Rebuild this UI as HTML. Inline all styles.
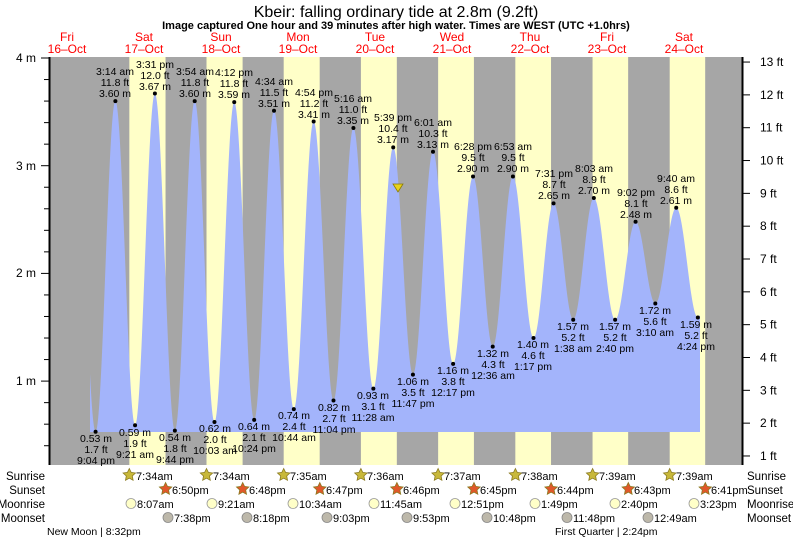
<!DOCTYPE html>
<html><head><meta charset="utf-8"><style>
html,body{margin:0;padding:0;background:#fff;}
svg{display:block;font-family:"Liberation Sans",sans-serif;}
.l{font-size:10.5px;fill:#000;text-anchor:middle;}
</style></head><body>
<svg id="s" width="793" height="539" viewBox="0 0 793 539" xmlns="http://www.w3.org/2000/svg">
<rect x="0" y="0" width="793" height="539" fill="#fff"/>
<g id="bands"></g>
<path id="tide" fill="#a3b4fb" d=""/>
<g id="ticks" stroke="#000" stroke-width="1"></g>
<line x1="49.5" y1="57" x2="49.5" y2="465" stroke="#000" stroke-width="2"/>
<line x1="742.5" y1="57" x2="742.5" y2="465" stroke="#000" stroke-width="2"/>
<text x="396" y="17" font-size="16" text-anchor="middle">Kbeir: falling  ordinary tide at 2.8m (9.2ft)</text>
<text x="396" y="29" font-size="11" font-weight="bold" text-anchor="middle">Image captured One hour and 39 minutes after high water. Times are WEST (UTC +1.0hrs)</text>
<g font-size="12" fill="#f00" text-anchor="middle">
<text x="67" y="41">Fri</text><text x="67" y="53">16–Oct</text>
<text x="144" y="41">Sat</text><text x="144" y="53">17–Oct</text>
<text x="221" y="41">Sun</text><text x="221" y="53">18–Oct</text>
<text x="298" y="41">Mon</text><text x="298" y="53">19–Oct</text>
<text x="375" y="41">Tue</text><text x="375" y="53">20–Oct</text>
<text x="452" y="41">Wed</text><text x="452" y="53">21–Oct</text>
<text x="530" y="41">Thu</text><text x="530" y="53">22–Oct</text>
<text x="607" y="41">Fri</text><text x="607" y="53">23–Oct</text>
<text x="684" y="41">Sat</text><text x="684" y="53">24–Oct</text>
</g>
<g font-size="12" text-anchor="end">
<text x="36" y="62">4 m</text><text x="36" y="170">3 m</text><text x="36" y="277">2 m</text><text x="36" y="385">1 m</text>
</g>
<g font-size="12" id="ft"></g>
<g id="dots" fill="#000"></g>
<polygon points="393,184 403,184 398,192" fill="#e8d21c" stroke="#8a7a00" stroke-width="0.8"/>
<g font-size="11.5">
<text x="45" y="480" text-anchor="end">Sunrise</text><text x="45" y="494" text-anchor="end">Sunset</text>
<text x="45" y="508" text-anchor="end">Moonrise</text><text x="45" y="522" text-anchor="end">Moonset</text>
<text x="747" y="480">Sunrise</text><text x="747" y="494">Sunset</text>
<text x="747" y="508">Moonrise</text><text x="747" y="522">Moonset</text>
</g>
<g id="icons"></g>
<g font-size="11">
<text x="136" y="480">7:34am</text><text x="213" y="480">7:34am</text><text x="290" y="480">7:35am</text><text x="367" y="480">7:36am</text><text x="444" y="480">7:37am</text><text x="521" y="480">7:38am</text><text x="599" y="480">7:39am</text><text x="676" y="480">7:39am</text>
<text x="172" y="494">6:50pm</text><text x="249" y="494">6:48pm</text><text x="326" y="494">6:47pm</text><text x="403" y="494">6:46pm</text><text x="480" y="494">6:45pm</text><text x="557" y="494">6:44pm</text><text x="634" y="494">6:43pm</text><text x="711" y="494">6:41pm</text>
<text x="137" y="508">8:07am</text><text x="218" y="508">9:21am</text><text x="299" y="508">10:34am</text><text x="380" y="508">11:45am</text><text x="461" y="508">12:51pm</text><text x="541" y="508">1:49pm</text><text x="621" y="508">2:40pm</text><text x="700" y="508">3:23pm</text>
<text x="174" y="522">7:38pm</text><text x="253" y="522">8:18pm</text><text x="333" y="522">9:03pm</text><text x="413" y="522">9:53pm</text><text x="493" y="522">10:48pm</text><text x="573" y="522">11:48pm</text><text x="654" y="522">12:49am</text>
</g>
<g font-size="10.5">
<text x="47" y="535">New Moon | 8:32pm</text>
<text x="555" y="535">First Quarter | 2:24pm</text>
</g>
<g class="l">
<text x="115" y="75">3:14 am</text><text x="115" y="86">11.8 ft</text><text x="115" y="97">3.60 m</text>
<text x="155" y="68">3:31 pm</text><text x="155" y="79">12.0 ft</text><text x="155" y="90">3.67 m</text>
<text x="195" y="75">3:54 am</text><text x="195" y="86">11.8 ft</text><text x="195" y="97">3.60 m</text>
<text x="234" y="76">4:12 pm</text><text x="234" y="87">11.8 ft</text><text x="234" y="98">3.59 m</text>
<text x="274" y="85">4:34 am</text><text x="274" y="96">11.5 ft</text><text x="274" y="107">3.51 m</text>
<text x="314" y="96">4:54 pm</text><text x="314" y="107">11.2 ft</text><text x="314" y="118">3.41 m</text>
<text x="353" y="102">5:16 am</text><text x="353" y="113">11.0 ft</text><text x="353" y="124">3.35 m</text>
<text x="393" y="121">5:39 pm</text><text x="393" y="132">10.4 ft</text><text x="393" y="143">3.17 m</text>
<text x="433" y="126">6:01 am</text><text x="433" y="137">10.3 ft</text><text x="433" y="148">3.13 m</text>
<text x="473" y="150">6:28 pm</text><text x="473" y="161">9.5 ft</text><text x="473" y="172">2.90 m</text>
<text x="513" y="150">6:53 am</text><text x="513" y="161">9.5 ft</text><text x="513" y="172">2.90 m</text>
<text x="554" y="177">7:31 pm</text><text x="554" y="188">8.7 ft</text><text x="554" y="199">2.65 m</text>
<text x="594" y="172">8:03 am</text><text x="594" y="183">8.9 ft</text><text x="594" y="194">2.70 m</text>
<text x="636" y="196">9:02 pm</text><text x="636" y="207">8.1 ft</text><text x="636" y="218">2.48 m</text>
<text x="676" y="182">9:40 am</text><text x="676" y="193">8.6 ft</text><text x="676" y="204">2.61 m</text>
<text x="96" y="442">0.53 m</text><text x="96" y="453">1.7 ft</text><text x="96" y="464">9:04 pm</text>
<text x="135" y="436">0.59 m</text><text x="135" y="447">1.9 ft</text><text x="135" y="458">9:21 am</text>
<text x="175" y="441">0.54 m</text><text x="175" y="452">1.8 ft</text><text x="175" y="463">9:44 pm</text>
<text x="215" y="432">0.62 m</text><text x="215" y="443">2.0 ft</text><text x="215" y="454">10:03 am</text>
<text x="254" y="430">0.64 m</text><text x="254" y="441">2.1 ft</text><text x="254" y="452">10:24 pm</text>
<text x="294" y="419">0.74 m</text><text x="294" y="430">2.4 ft</text><text x="294" y="441">10:44 am</text>
<text x="334" y="411">0.82 m</text><text x="334" y="422">2.7 ft</text><text x="334" y="433">11:04 pm</text>
<text x="373" y="399">0.93 m</text><text x="373" y="410">3.1 ft</text><text x="373" y="421">11:28 am</text>
<text x="413" y="385">1.06 m</text><text x="413" y="396">3.5 ft</text><text x="413" y="407">11:47 pm</text>
<text x="453" y="374">1.16 m</text><text x="453" y="385">3.8 ft</text><text x="453" y="396">12:17 pm</text>
<text x="493" y="357">1.32 m</text><text x="493" y="368">4.3 ft</text><text x="493" y="379">12:36 am</text>
<text x="533" y="348">1.40 m</text><text x="533" y="359">4.6 ft</text><text x="533" y="370">1:17 pm</text>
<text x="573" y="330">1.57 m</text><text x="573" y="341">5.2 ft</text><text x="573" y="352">1:38 am</text>
<text x="615" y="330">1.57 m</text><text x="615" y="341">5.2 ft</text><text x="615" y="352">2:40 pm</text>
<text x="655" y="314">1.72 m</text><text x="655" y="325">5.6 ft</text><text x="655" y="336">3:10 am</text>
<text x="696" y="328">1.59 m</text><text x="696" y="339">5.2 ft</text><text x="696" y="350">4:24 pm</text>
</g>
</svg>
<script>
(function(){
var NS="http://www.w3.org/2000/svg";
function el(p,n,a){var e=document.createElementNS(NS,n);for(var k in a)e.setAttribute(k,a[k]);document.getElementById(p).appendChild(e);return e;}
var X0=105,S=3.215;function X(t){return X0+S*t;}function Y(h){return 58+(4-h)*107.7;}
el("bands","rect",{x:50,y:57,width:692,height:408,fill:"#a6a6a6"});
var sr=[7.57,7.57,7.58,7.6,7.62,7.63,7.65,7.65],ss=[18.83,18.8,18.78,18.77,18.75,18.73,18.72,18.68];
for(var d=0;d<8;d++){var a=X(24*d+sr[d]),b=X(24*d+ss[d]);el("bands","rect",{x:a,y:57,width:b-a,height:408,fill:"#ffffc8"});}
var E=[[-9.2,3.55],[-2.93,0.53],[3.23,3.60],[9.35,0.59],[15.52,3.67],[21.73,0.54],[27.9,3.60],[34.05,0.62],[40.2,3.59],[46.4,0.64],[52.57,3.51],[58.73,0.74],[64.9,3.41],[71.07,0.82],[77.27,3.35],[83.47,0.93],[89.65,3.17],[95.78,1.06],[102.02,3.13],[108.28,1.16],[114.47,2.90],[120.6,1.32],[126.88,2.90],[133.28,1.40],[139.52,2.65],[145.63,1.57],[152.05,2.70],[158.67,1.57],[165.03,2.48],[171.17,1.72],[177.67,2.61],[184.4,1.59],[190.8,2.5]];
function H(t){for(var i=0;i<E.length-1;i++){if(t>=E[i][0]&&t<=E[i+1][0]){var f=(t-E[i][0])/(E[i+1][0]-E[i][0]);return E[i][1]+(E[i+1][1]-E[i][1])*(1-Math.cos(Math.PI*f))/2;}}return 1;}
var base=432,d="M90,"+base;
for(var x=90;x<=700;x+=0.5){var t=(x-X0)/S;var y=Math.min(Y(H(t)),base);d+=" L"+x+","+y.toFixed(1);}
d+=" L700,"+base+" Z";document.getElementById("tide").setAttribute("d",d);
for(var i=1;i<E.length-1;i++){el("dots","circle",{cx:X(E[i][0]),cy:Y(E[i][1]),r:2});}
for(var h=0.4;h<=4.001;h+=0.2){var y=Y(h);var big=Math.abs(h-Math.round(h))<0.01;el("ticks","line",{x1:big?41:44,y1:y,x2:49,y2:y});}
for(var f=1;f<=13;f++){var y=Y(f*0.3048);el("ticks","line",{x1:743,y1:y,x2:750,y2:y});var t=el("ft","text",{x:760,y:y+4});t.textContent=f+" ft";}
function star(cx,cy,fill){var p="";for(var k=0;k<10;k++){var r=k%2?3.2:6.5,a=-Math.PI/2+k*Math.PI/5;p+=(cx+r*Math.cos(a)).toFixed(1)+","+(cy+r*Math.sin(a)).toFixed(1)+" ";}el("icons","polygon",{points:p,fill:fill,stroke:"#8a7a20","stroke-width":0.8});}
var srx=[129.3,206.5,283.7,360.9,438.1,515.4,592.6,669.7],ssx=[165.6,242.7,319.8,396.9,474,551.1,628.3,705.3];
srx.forEach(function(x){star(x,475,"#c8b83a");});ssx.forEach(function(x){star(x,489,"#e0582a");});
[131,212,293,374,455,535,615,694].forEach(function(x){el("icons","circle",{cx:x,cy:503.5,r:5,fill:"#ffffc8",stroke:"#999","stroke-width":0.8});});
[168,247,327,407,487,567,648].forEach(function(x){el("icons","circle",{cx:x,cy:517.5,r:5,fill:"#bdb8aa",stroke:"#888","stroke-width":0.8});});
})();
</script>
</body></html>
